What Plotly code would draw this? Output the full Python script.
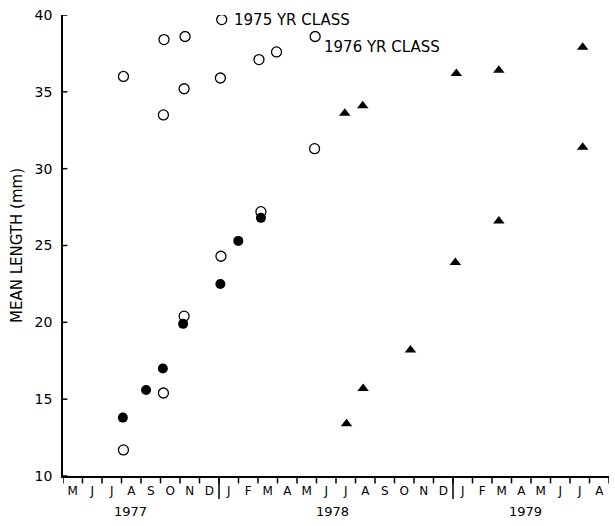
import plotly.graph_objects as go

# x values: months since 1 Jan 1977 (e.g. 12.0 = 1 Jan 1978)
open_x = [7.10, 9.18, 10.26, 12.14, 9.15, 10.21, 12.07, 14.05, 14.95, 16.93, 16.90, 14.15, 12.10, 7.10, 10.21, 9.15]
open_y = [36.0, 38.4, 38.6, 39.7, 33.5, 35.2, 35.9, 37.1, 37.6, 38.6, 31.3, 27.2, 24.3, 11.7, 20.4, 15.4]

filled_x = [7.07, 8.26, 9.12, 10.16, 12.07, 12.99, 14.15]
filled_y = [13.8, 15.6, 17.0, 19.9, 22.5, 25.3, 26.8]

tri_x = [18.54, 19.39, 21.82, 24.12, 26.35, 30.65, 18.45, 19.37, 24.17, 26.35, 30.65]
tri_y = [13.4, 15.7, 18.2, 23.9, 26.6, 31.4, 33.6, 34.1, 36.2, 36.4, 37.9]

month_letters = ["M", "J", "J", "A", "S", "O", "N", "D",
                 "J", "F", "M", "A", "M", "J", "J", "A", "S", "O", "N", "D",
                 "J", "F", "M", "A", "M", "J", "J", "A"]
first_month = 4  # May 1977
year_labels = ["1977", "1978", "1979"]
year_label_x = [7.45, 17.8, 27.7]
year_starts = [12, 24]
y_ticks = [10, 15, 20, 25, 30, 35, 40]

FONT = "DejaVu Sans"

fig = go.Figure()
fig.add_trace(go.Scatter(x=open_x, y=open_y, mode="markers",
                         marker=dict(symbol="circle-open", size=10, color="black", line=dict(width=1.3)),
                         showlegend=False))
fig.add_trace(go.Scatter(x=filled_x, y=filled_y, mode="markers",
                         marker=dict(symbol="circle", size=10, color="black"),
                         showlegend=False))
fig.add_trace(go.Scatter(x=tri_x, y=tri_y, mode="markers",
                         marker=dict(symbol="triangle-up", size=10, color="black"),
                         showlegend=False))

n = len(month_letters)
centers = [first_month + i + 0.5 for i in range(n)]
bounds = [first_month + i for i in range(n + 1)]
xrange = [first_month, first_month + n]

fig.update_layout(
    xaxis=dict(range=xrange, tickmode="array", tickvals=centers, ticktext=month_letters,
               ticks="", showgrid=False, zeroline=False, showline=True, linecolor="black", linewidth=1.5,
               tickfont=dict(family=FONT, size=12, color="black"), ticklabelstandoff=3),
    yaxis=dict(range=[10, 40], tickvals=y_ticks, ticks="", showgrid=False, zeroline=False,
               showline=True, linecolor="black", linewidth=1.5,
               tickfont=dict(family=FONT, size=14, color="black"), ticklabelstandoff=6,
               title=dict(text="MEAN LENGTH (mm)", font=dict(family=FONT, size=15, color="black"), standoff=8)),
)

# month boundary ticks (below the axis line)
for b in bounds:
    fig.add_shape(type="line", xref="x", yref="paper", x0=b, x1=b, y0=0, y1=-0.016,
                  line=dict(color="black", width=1.5), layer="above")
# year boundary long ticks
for xs in year_starts:
    fig.add_shape(type="line", xref="x", yref="paper", x0=xs, x1=xs, y0=0, y1=-0.05,
                  line=dict(color="black", width=1.5))
# y ticks (inside)
for t in y_ticks:
    fig.add_shape(type="line", xref="paper", yref="y", x0=0, x1=0.008, y0=t, y1=t,
                  line=dict(color="black", width=1.5), layer="above")

for lab, lx in zip(year_labels, year_label_x):
    fig.add_annotation(x=lx, y=-0.078, xref="x", yref="paper", text=lab, showarrow=False,
                       font=dict(family=FONT, size=13, color="black"), yanchor="middle")

fig.add_annotation(x=12.67, y=39.7, text="1975 YR CLASS", showarrow=False, xanchor="left",
                   font=dict(family=FONT, size=15, color="black"))
fig.add_annotation(x=17.26, y=37.9, text="1976 YR CLASS", showarrow=False, xanchor="left",
                   font=dict(family=FONT, size=15, color="black"))

fig.update_layout(width=615, height=526, margin=dict(l=63, r=6, t=15, b=50),
                  plot_bgcolor="white", paper_bgcolor="white", showlegend=False)

fig.write_html("out.html")
